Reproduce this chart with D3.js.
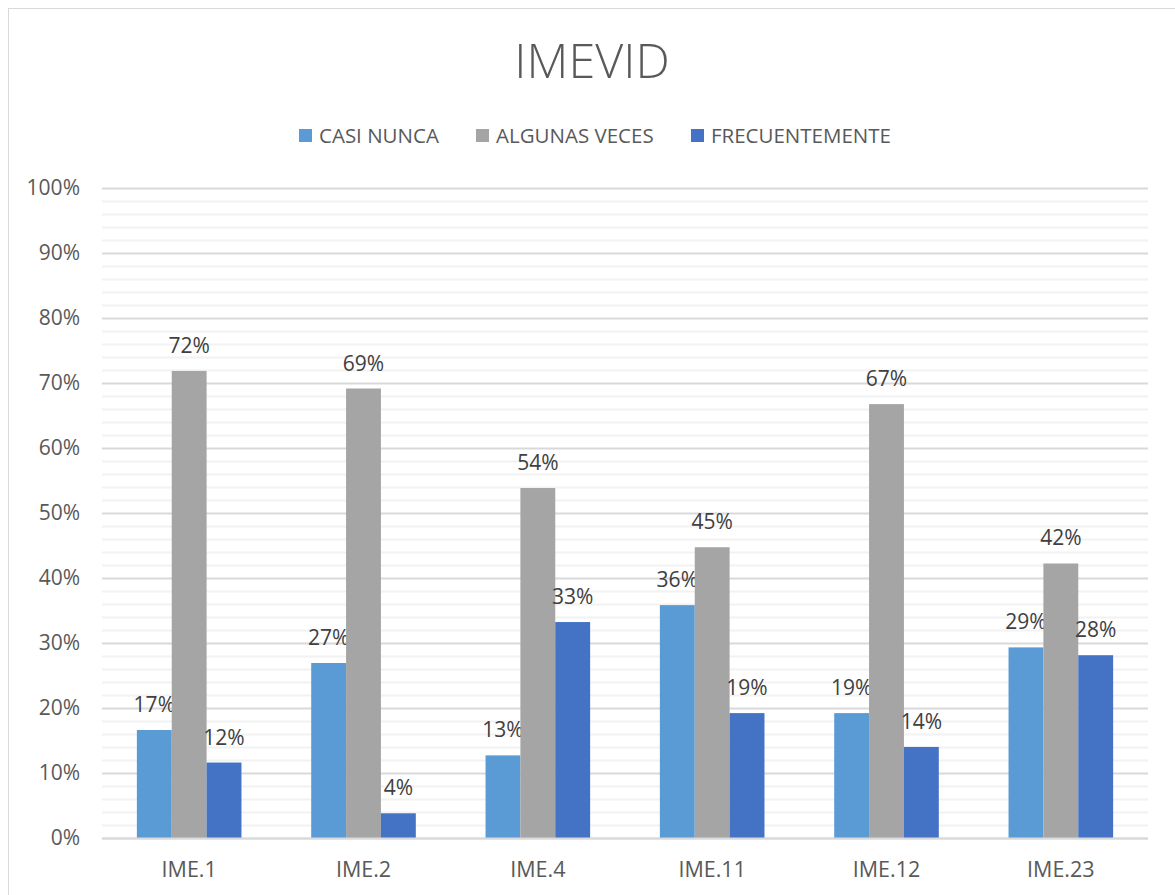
<!DOCTYPE html>
<html>
<head>
<meta charset="utf-8">
<script src="https://cdn.jsdelivr.net/npm/d3@7"></script>
<style>
  html, body { margin: 0; padding: 0; background: #fff; }
  svg { display: block; font-family: "Open Sans", "Noto Sans", sans-serif; }
</style>
</head>
<body>
<svg id="chart" width="1175" height="895"></svg>
<script>
const title = "IMEVID";
const categories = ["IME.1", "IME.2", "IME.4", "IME.11", "IME.12", "IME.23"];
const seriesNames = ["CASI NUNCA", "ALGUNAS VECES", "FRECUENTEMENTE"];
const casiNunca = [0.166, 0.269, 0.127, 0.358, 0.192, 0.293];
const algunasVeces = [0.718, 0.691, 0.538, 0.447, 0.667, 0.422];
const frecuentemente = [0.116, 0.038, 0.332, 0.192, 0.140, 0.281];
const yTicks = [0, 0.1, 0.2, 0.3, 0.4, 0.5, 0.6, 0.7, 0.8, 0.9, 1.0];
const colors = ["#5B9BD5", "#A5A5A5", "#4472C4"];

const seriesValues = [casiNunca, algunasVeces, frecuentemente];
const svg = d3.select("#chart");

// outer chart border
svg.append("rect").attr("x", 8.5).attr("y", 8.5).attr("width", 1200).attr("height", 900)
  .attr("fill", "#fff").attr("stroke", "#d9d9d9").attr("stroke-width", 1);

const plot = { left: 102, right: 1148, top: 187.5, bottom: 838 };

const x0 = d3.scaleBand().domain(categories).range([plot.left, plot.right])
  .paddingInner(0.4).paddingOuter(0.2);
const x1 = d3.scaleBand().domain(seriesNames).range([0, x0.bandwidth()]).padding(0);
const y = d3.scaleLinear().domain([0, 1]).range([plot.bottom, plot.top]);

// minor gridlines
const minor = d3.range(0, 1.0001, 0.02).filter(v => Math.round(v * 100) % 10 !== 0);
svg.append("g").selectAll("line").data(minor).join("line")
  .attr("x1", plot.left).attr("x2", plot.right)
  .attr("y1", d => Math.round(y(d)) + 0.5).attr("y2", d => Math.round(y(d)) + 0.5)
  .attr("stroke", "#f2f2f2").attr("stroke-width", 2);

// major gridlines
svg.append("g").selectAll("line").data(yTicks).join("line")
  .attr("x1", plot.left).attr("x2", plot.right)
  .attr("y1", d => Math.round(y(d)) + 0.5).attr("y2", d => Math.round(y(d)) + 0.5)
  .attr("stroke", "#d9d9d9").attr("stroke-width", 2);

// y axis labels
const yAxis = d3.axisLeft(y).tickValues(yTicks).tickFormat(d3.format(".0%")).tickSize(0).tickPadding(0);
const gy = svg.append("g").attr("transform", `translate(80,0)`).call(yAxis);
gy.select(".domain").remove();
gy.selectAll("text").attr("font-size", 21).attr("fill", "#595959")
  .attr("font-family", "'Open Sans', sans-serif");

// bars
const groups = svg.append("g").selectAll("g").data(categories).join("g")
  .attr("transform", d => `translate(${x0(d)},0)`);
groups.each(function(cat, ci) {
  const g = d3.select(this);
  seriesNames.forEach((s, si) => {
    const v = seriesValues[si][ci];
    g.append("rect")
      .attr("x", x1(s)).attr("width", x1.bandwidth())
      .attr("y", y(v)).attr("height", y(0) - y(v))
      .attr("fill", colors[si]);
    g.append("text")
      .attr("x", x1(s) + x1.bandwidth() / 2).attr("y", y(v) - 18)
      .attr("text-anchor", "middle").attr("font-size", 21).attr("fill", "#404040")
      .text(d3.format(".0%")(v));
  });
});

// x axis line
svg.append("line").attr("x1", plot.left).attr("x2", plot.right)
  .attr("y1", Math.round(y(0)) + 0.5).attr("y2", Math.round(y(0)) + 0.5)
  .attr("stroke", "#d9d9d9").attr("stroke-width", 2);

// x axis labels
const xAxis = d3.axisBottom(x0).tickSize(0).tickPadding(0);
const gx = svg.append("g").attr("transform", `translate(0,${plot.bottom})`).call(xAxis);
gx.select(".domain").remove();
gx.selectAll("text").attr("font-size", 21.5).attr("fill", "#595959")
  .attr("font-family", "'Open Sans', sans-serif").attr("dy", null).attr("y", 39);

// title
svg.append("text").attr("x", 592).attr("y", 78).attr("text-anchor", "middle")
  .attr("font-size", 48.5).attr("font-weight", 300).attr("fill", "#595959").text(title);

// legend
const legendX = [299, 476, 691];
const leg = svg.append("g").selectAll("g").data(seriesNames).join("g")
  .attr("transform", (d, i) => `translate(${legendX[i]},129)`);
leg.append("rect").attr("width", 13).attr("height", 13).attr("fill", (d, i) => colors[i]);
leg.append("text").attr("x", 20).attr("y", 14).attr("font-size", 20.5).attr("fill", "#595959").text(d => d);
</script>
</body>
</html>
